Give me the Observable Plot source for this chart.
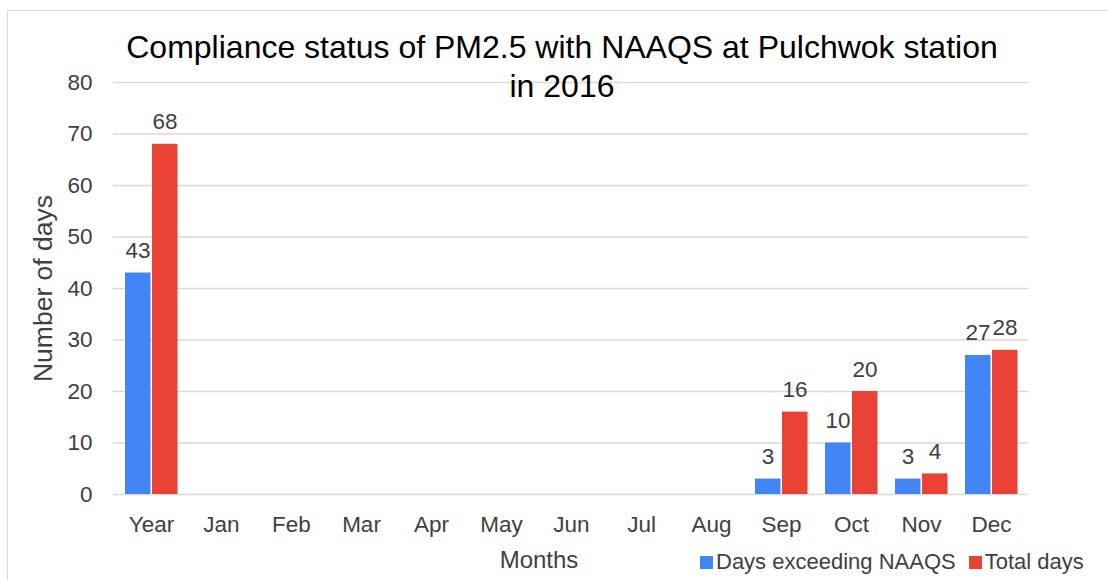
<!DOCTYPE html>
<html>
<head>
<meta charset="utf-8">
<script src="https://cdn.jsdelivr.net/npm/d3@7"></script>
<script src="https://cdn.jsdelivr.net/npm/@observablehq/plot@0.6"></script>
<style>
  html, body { margin: 0; padding: 0; background: #fff; }
  body { font-family: "Liberation Sans", Arial, sans-serif; }
  #wrap { position: relative; width: 1108px; height: 580px; overflow: hidden; background: #fff; }
  #frame { position: absolute; left: 7px; top: 10px; width: 1120px; height: 620px; border: 1px solid #d9d9d9; box-sizing: border-box; }
  #chart { position: absolute; left: 0; top: 0; }
  #title { position: absolute; left: 0; width: 1124px; top: 28px; text-align: center; font-size: 32px; line-height: 39px; color: #000; white-space: nowrap; }
  #legend { position: absolute; left: 700px; top: 549px; height: 26px; display: flex; align-items: center; font-size: 22px; color: #404040; white-space: nowrap; }
  #legend .sw { display: inline-block; width: 13px; height: 13px; margin-right: 3px; }
  #legend .item { display: flex; align-items: center; margin-right: 13px; }
</style>
</head>
<body>
<div id="wrap">
  <div id="frame"></div>
  <div id="chart"></div>
  <div id="title">Compliance status of PM2.5 with NAAQS at Pulchwok station<br>in 2016</div>
  <div id="legend"></div>
</div>
<script>
// ---- data ----
const months = ["Year", "Jan", "Feb", "Mar", "Apr", "May", "Jun", "Jul", "Aug", "Sep", "Oct", "Nov", "Dec"];
const daysExceeding = [43, 0, 0, 0, 0, 0, 0, 0, 0, 3, 10, 3, 27];
const totalDays = [68, 0, 0, 0, 0, 0, 0, 0, 0, 16, 20, 4, 28];
const seriesNames = ["Days exceeding NAAQS", "Total days"];
const seriesColors = ["#4285f4", "#ea4335"];
const yTicks = [0, 10, 20, 30, 40, 50, 60, 70, 80];

const exceedRows = months.map((m, i) => ({month: m, series: seriesNames[0], value: daysExceeding[i]}));
const totalRows = months.map((m, i) => ({month: m, series: seriesNames[1], value: totalDays[i]}));

const chart = Plot.plot({
  width: 1108,
  height: 580,
  marginLeft: 113,
  marginRight: 80,
  marginTop: 82,
  marginBottom: 86,
  style: {fontFamily: "'Liberation Sans', Arial, sans-serif", color: "#404040", background: "transparent", overflow: "visible"},
  x: {domain: months, padding: 0, axis: null},
  y: {domain: [0, 80], axis: null},
  marks: [
    Plot.gridY(yTicks, {stroke: "#d9d9d9", strokeOpacity: 1, strokeWidth: 1.5}),
    Plot.axisY(yTicks, {tickSize: 0, tickPadding: 21, fontSize: 22.5, label: null, fill: "#404040"}),
    Plot.axisX(months, {tickSize: 0, tickPadding: 22, fontSize: 22.5, label: null, fill: "#404040"}),
    Plot.barY(exceedRows, {x: "month", y: "value", fill: seriesColors[0], insetLeft: 9, insetRight: 35.5}),
    Plot.barY(totalRows, {x: "month", y: "value", fill: seriesColors[1], insetLeft: 36, insetRight: 8.5}),
    Plot.text(exceedRows.filter(d => d.value > 0), {x: "month", y: "value", text: d => String(d.value), dx: -13.5, dy: -15, lineAnchor: "bottom", fontSize: 22.5, fill: "#404040"}),
    Plot.text(totalRows.filter(d => d.value > 0), {x: "month", y: "value", text: d => String(d.value), dx: 13.5, dy: -15, lineAnchor: "bottom", fontSize: 22.5, fill: "#404040"}),
    Plot.text(["Number of days"], {frameAnchor: "left", textAnchor: "middle", rotate: -90, dx: -70, fontSize: 26.5, fill: "#404040", lineAnchor: "middle"}),
    Plot.text(["Months"], {frameAnchor: "bottom", textAnchor: "middle", dx: -32, dy: 66, fontSize: 24, fill: "#404040", lineAnchor: "middle"})
  ]
});
document.getElementById("chart").appendChild(chart);

const legend = document.getElementById("legend");
seriesNames.forEach((name, i) => {
  const item = document.createElement("div");
  item.className = "item";
  const sw = document.createElement("span");
  sw.className = "sw";
  sw.style.background = seriesColors[i];
  item.appendChild(sw);
  item.appendChild(document.createTextNode(name));
  legend.appendChild(item);
});
</script>
</body>
</html>
